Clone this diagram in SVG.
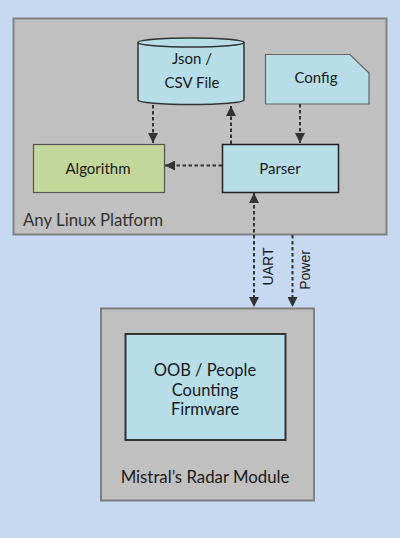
<svg xmlns="http://www.w3.org/2000/svg" width="400" height="538" viewBox="0 0 400 538">
<defs>
<style>
.cont{fill:#c0c0c0;stroke:#7f7f7f;stroke-width:2}
.blue{fill:#b6dde8;stroke:#222;stroke-width:1.5}
.green{fill:#c4d79b;stroke:#555;stroke-width:1.2}
.t{font-family:Lato,"Liberation Sans",sans-serif;fill:#1a1a1a;text-anchor:middle}
.lab{font-family:Lato,"Liberation Sans",sans-serif;fill:#333}
.c{fill:none;stroke:#333;stroke-width:2;stroke-dasharray:3.5,2.5}
.side{font-family:"Liberation Sans",Arial,sans-serif;font-size:14px;fill:#1a1a1a;text-anchor:middle}
</style>
<marker id="ah" viewBox="0 0 10 10" refX="10" refY="5" markerWidth="5" markerHeight="5" orient="auto-start-reverse" markerUnits="strokeWidth">
<path d="M0,0 L10,5 L0,10 Z" fill="#333"/>
</marker>
</defs>
<rect width="400" height="538" fill="#c6d9f0"/>
<g id="linux-platform">
<rect class="cont" x="13.5" y="18.5" width="373" height="216"/>
<text class="lab" x="23" y="226" font-size="16.8">Any Linux Platform</text>
</g>
<g id="json-csv">
<path d="M138,42.5 V100 A53,4.5 0 0 0 244,100 V42.5" fill="#b6dde8" stroke="#333" stroke-width="1.5"/>
<ellipse cx="191" cy="42.5" rx="53" ry="4.5" fill="#b6dde8" stroke="#333" stroke-width="1.5"/>
<text class="t" x="192" y="63.5" font-size="15">Json /</text>
<text class="t" x="192" y="88" font-size="15">CSV File</text>
</g>
<g id="config">
<path d="M265.5,54.5 H350 L369,73 V104 H265.5 Z" fill="#b6dde8" stroke="#666" stroke-width="1.2"/>
<text class="t" x="316" y="82.5" font-size="15">Config</text>
</g>
<g id="algorithm">
<rect class="green" x="33.5" y="144.5" width="131" height="48"/>
<text class="t" x="98" y="173.5" font-size="15">Algorithm</text>
</g>
<g id="parser">
<rect class="blue" x="222.5" y="144.5" width="116" height="48"/>
<text class="t" x="280" y="173.5" font-size="15">Parser</text>
</g>
<g id="radar-module">
<rect class="cont" x="101" y="308.5" width="213" height="192"/>
<text class="t" x="205" y="482.5" font-size="16.8" fill="#333">Mistral’s Radar Module</text>
</g>
<g id="firmware">
<rect x="125.5" y="334" width="160" height="106" fill="#b6dde8" stroke="#333" stroke-width="2"/>
<text class="t" x="205" y="376" font-size="16.5">OOB / People</text>
<text class="t" x="205" y="396" font-size="16.5">Counting</text>
<text class="t" x="205" y="415" font-size="16.5">Firmware</text>
</g>
<g id="connectors">
<line class="c" x1="153" y1="105" x2="153" y2="143" marker-end="url(#ah)"/>
<line class="c" x1="231" y1="144" x2="231" y2="106" marker-end="url(#ah)" stroke-width="2.5"/>
<line class="c" x1="300" y1="104" x2="300" y2="143" marker-end="url(#ah)"/>
<line class="c" x1="222" y1="165.5" x2="165" y2="165.5" marker-end="url(#ah)"/>
<line class="c" x1="254" y1="193" x2="254" y2="307" marker-start="url(#ah)" marker-end="url(#ah)"/>
<line class="c" x1="292.5" y1="235" x2="292.5" y2="307" marker-end="url(#ah)"/>
<text class="side" transform="translate(272.5,266.5) rotate(-90)">UART</text>
<text class="side" transform="translate(310,270) rotate(-90)">Power</text>
</g>
</svg>
